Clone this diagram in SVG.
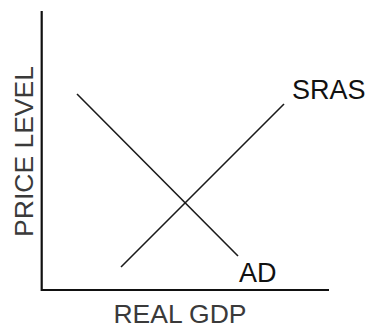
<svg xmlns="http://www.w3.org/2000/svg" width="369" height="328" viewBox="0 0 369 328">
<style>
.axis{stroke:#111;stroke-width:2.2;fill:none}
.curve{stroke:#1a1a1a;stroke-width:1.6;fill:none}
.lbl{font-family:"Liberation Sans",Arial,sans-serif;font-size:26.5px;fill:#3a3a3a}
.clbl{font-family:"Liberation Sans",Arial,sans-serif;font-size:27px;fill:#111}
</style>
<rect width="369" height="328" fill="#fff"/>
<g id="axes">
<polyline class="axis" points="41.7,11 41.7,290 329,290"/>
</g>
<g id="connectors">
<line id="ad-line" class="curve" x1="77" y1="94" x2="238" y2="256"/>
<line id="sras-line" class="curve" x1="121" y1="267" x2="284" y2="104"/>
</g>
<g id="labels">
<text class="lbl" x="180" y="322.5" text-anchor="middle">REAL GDP</text>
<text class="lbl" x="33" y="151.5" text-anchor="middle" transform="rotate(-90 33 151.5)">PRICE LEVEL</text>
</g>
<g id="sras"><text class="clbl" x="292" y="99">SRAS</text></g>
<g id="ad"><text class="clbl" x="239" y="282">AD</text></g>
</svg>
